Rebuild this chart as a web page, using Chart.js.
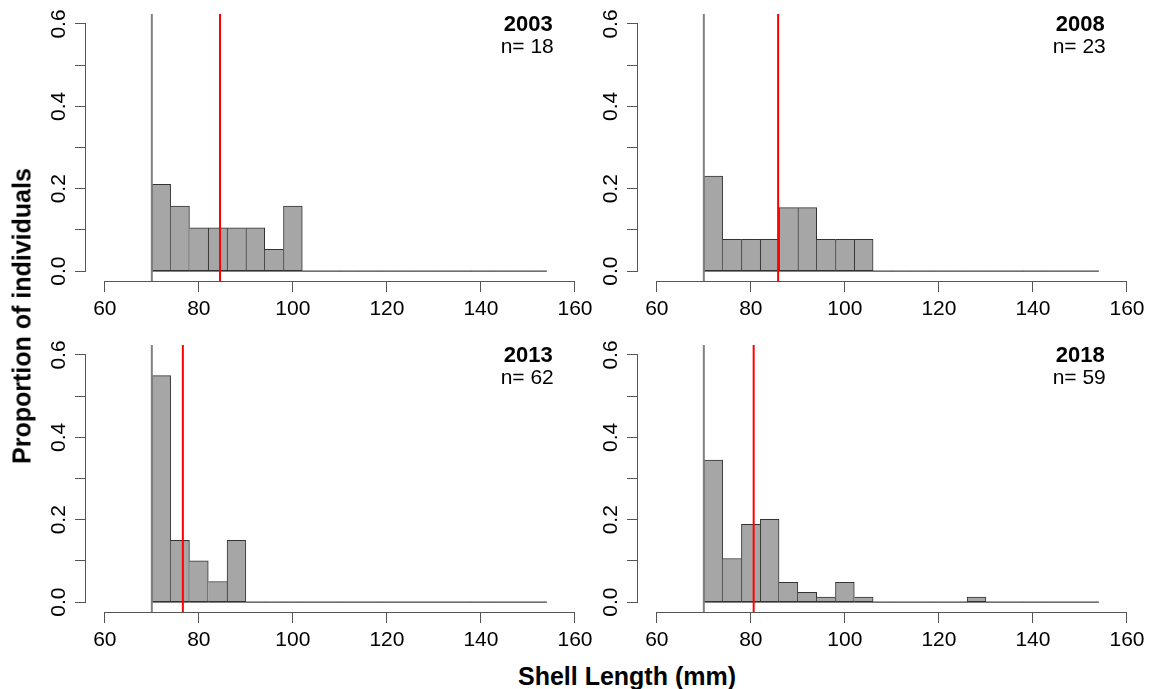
<!DOCTYPE html>
<html>
<head>
<meta charset="utf-8">
<title>Shell length distributions</title>
<script src="https://cdn.jsdelivr.net/npm/chart.js@4.4.1/dist/chart.umd.min.js"></script>
<style>
  html, body { margin: 0; padding: 0; background: #fff; }
  #wrap { position: relative; width: 1151px; height: 689px; overflow: hidden;
          font-family: "Liberation Sans", Arial, sans-serif; color: #000; }
  .panel { position: absolute; width: 600px; height: 330px; }
  .panel canvas { display: block; }
  .ylab { position: absolute; left: 22px; top: 316px; white-space: nowrap;
          transform: translate(-50%, -50%) rotate(-90deg);
          font-weight: bold; font-size: 25px; line-height: 1; }
  .xlab { position: absolute; left: 627px; top: 676px; white-space: nowrap;
          transform: translate(-50%, -50%);
          font-weight: bold; font-size: 25px; line-height: 1; }
</style>
</head>
<body>
<div id="wrap">
  <div class="panel" style="left:0px;top:0px"><canvas id="p0" width="600" height="330"></canvas></div>
  <div class="panel" style="left:552px;top:0px"><canvas id="p1" width="600" height="330"></canvas></div>
  <div class="panel" style="left:0px;top:331px"><canvas id="p2" width="600" height="330"></canvas></div>
  <div class="panel" style="left:552px;top:331px"><canvas id="p3" width="600" height="330"></canvas></div>
  <div class="ylab">Proportion of individuals</div>
  <div class="xlab">Shell Length (mm)</div>
</div>
<script>
// Histogram bins: 4 mm wide, from 70 to 154 mm (bin midpoints)
const binMids = [72, 76, 80, 84, 88, 92, 96, 100, 104, 108, 112, 116, 120, 124, 128, 132, 136, 140, 144, 148, 152];
const binLow = 70;
const binHigh = 154;

const years = ['2003', '2008', '2013', '2018'];
const sampleSizes = [18, 23, 62, 59];

// Proportion of individuals per bin
const prop2003 = [0.211, 0.158, 0.105, 0.105, 0.105, 0.105, 0.053, 0.158, 0, 0, 0, 0, 0, 0, 0, 0, 0, 0, 0, 0, 0];
const prop2008 = [0.231, 0.077, 0.077, 0.077, 0.154, 0.154, 0.077, 0.077, 0.077, 0, 0, 0, 0, 0, 0, 0, 0, 0, 0, 0, 0];
const prop2013 = [0.55, 0.15, 0.10, 0.05, 0.15, 0, 0, 0, 0, 0, 0, 0, 0, 0, 0, 0, 0, 0, 0, 0, 0];
const prop2018 = [0.345, 0.106, 0.189, 0.201, 0.048, 0.024, 0.012, 0.048, 0.012, 0, 0, 0, 0, 0, 0.012, 0, 0, 0, 0, 0, 0];

// Mean shell length per year (red line)
const meanLength = [84.5, 85.8, 76.6, 80.6];
// Minimum size (grey line)
const minSize = 70;

// Axis ticks
const xTicks = [60, 80, 100, 120, 140, 160];
const yTicks = [0, 0.1, 0.2, 0.3, 0.4, 0.5, 0.6];
const yTickLabels = ['0.0', '', '0.2', '', '0.4', '', '0.6'];

const proportions = [prop2003, prop2008, prop2013, prop2018];

// Plot limits (axis range padded by 4% on each side)
const X_MIN = 56, X_MAX = 164;
const Y_MIN = -0.024, Y_MAX = 0.624;

const AXIS = '#555';
const FONT = '"Liberation Sans", Arial, sans-serif';
Chart.defaults.font.family = FONT;
Chart.defaults.color = '#000';

function alignPx(p) { return Math.round(p - 0.5) + 0.5; }

const axisLines = {
  id: 'axisLines',
  afterDraw(chart) {
    const { ctx, chartArea, scales: { x, y } } = chart;
    ctx.save();
    ctx.strokeStyle = AXIS;
    ctx.lineWidth = 1;
    ctx.beginPath();
    const yb = alignPx(chartArea.bottom + 0.5);
    ctx.moveTo(alignPx(x.getPixelForValue(xTicks[0])), yb);
    ctx.lineTo(alignPx(x.getPixelForValue(xTicks[xTicks.length - 1])), yb);
    const xl = alignPx(chartArea.left - 0.5);
    ctx.moveTo(xl, alignPx(y.getPixelForValue(yTicks[0])));
    ctx.lineTo(xl, alignPx(y.getPixelForValue(yTicks[yTicks.length - 1])));
    ctx.stroke();
    ctx.restore();
  }
};

const yearLabel = {
  id: 'yearLabel',
  afterDraw(chart) {
    const { ctx, chartArea } = chart;
    const o = chart.options.plugins.yearLabel;
    const xr = chartArea.right - 41;
    ctx.save();
    ctx.fillStyle = '#000';
    ctx.textAlign = 'right';
    ctx.textBaseline = 'middle';
    ctx.font = 'bold 22px ' + FONT;
    ctx.fillText(o.year, xr, chartArea.top + 11);
    ctx.font = '21px ' + FONT;
    ctx.fillText('n= ' + o.n, xr + 1, chartArea.top + 33);
    ctx.restore();
  }
};

function barBorder(ctx) {
  const d = ctx.dataset.data;
  const i = ctx.dataIndex;
  const h = d[i].y;
  if (!h) return 0;
  const prev = i > 0 ? d[i - 1].y : 0;
  const next = i < d.length - 1 ? d[i + 1].y : 0;
  return { top: 1, bottom: 1, left: h >= prev ? 1 : 0, right: h > next ? 1 : 0 };
}

function makePanel(idx) {
  const props = proportions[idx];
  new Chart(document.getElementById('p' + idx), {
    type: 'bar',
    data: {
      datasets: [
        {
          type: 'line', order: 0,
          data: [{ x: meanLength[idx], y: Y_MIN }, { x: meanLength[idx], y: Y_MAX }],
          borderColor: '#FF0000', borderWidth: 2, pointRadius: 0, tension: 0
        },
        {
          type: 'line', order: 1,
          data: [{ x: minSize, y: Y_MIN }, { x: minSize, y: Y_MAX }],
          borderColor: '#808080', borderWidth: 2, pointRadius: 0, tension: 0
        },
        {
          type: 'line', order: 2,
          data: [{ x: binLow, y: 0 }, { x: binHigh, y: 0 }],
          borderColor: '#333', borderWidth: 1, pointRadius: 0, tension: 0
        },
        {
          type: 'bar', order: 3,
          data: binMids.map((m, i) => ({ x: m, y: props[i] })),
          backgroundColor: '#A6A6A6',
          borderColor: '#333',
          borderWidth: barBorder,
          borderSkipped: false,
          barPercentage: 1,
          categoryPercentage: 1
        }
      ]
    },
    options: {
      responsive: false,
      animation: false,
      events: [],
      devicePixelRatio: 1,
      layout: { padding: { left: 0, right: 6.2, top: 14.1, bottom: 0 } },
      plugins: {
        legend: { display: false },
        tooltip: { enabled: false },
        yearLabel: { year: years[idx], n: sampleSizes[idx] }
      },
      scales: {
        x: {
          type: 'linear', min: X_MIN, max: X_MAX, offset: false,
          afterBuildTicks: s => { s.ticks = xTicks.map(v => ({ value: v })); },
          afterFit: s => { s.height = 49; },
          border: { display: false },
          grid: { drawOnChartArea: false, drawTicks: true, tickLength: 11, color: AXIS, offset: false },
          ticks: { autoSkip: false, maxRotation: 0, minRotation: 0, padding: 5,
                   font: { size: 21 }, color: '#000' }
        },
        y: {
          type: 'linear', min: Y_MIN, max: Y_MAX, beginAtZero: false,
          afterBuildTicks: s => { s.ticks = yTicks.map(v => ({ value: v })); },
          afterFit: s => { s.width = 86; },
          border: { display: false },
          grid: { drawOnChartArea: false, drawTicks: true, tickLength: 11, color: AXIS },
          ticks: { autoSkip: false, minRotation: 90, maxRotation: 90, crossAlign: 'center',
                   padding: 1, font: { size: 21 }, color: '#000',
                   callback: (v, i) => yTickLabels[i] }
        }
      }
    },
    plugins: [axisLines, yearLabel]
  });
}

for (let i = 0; i < 4; i++) makePanel(i);
</script>
</body>
</html>
